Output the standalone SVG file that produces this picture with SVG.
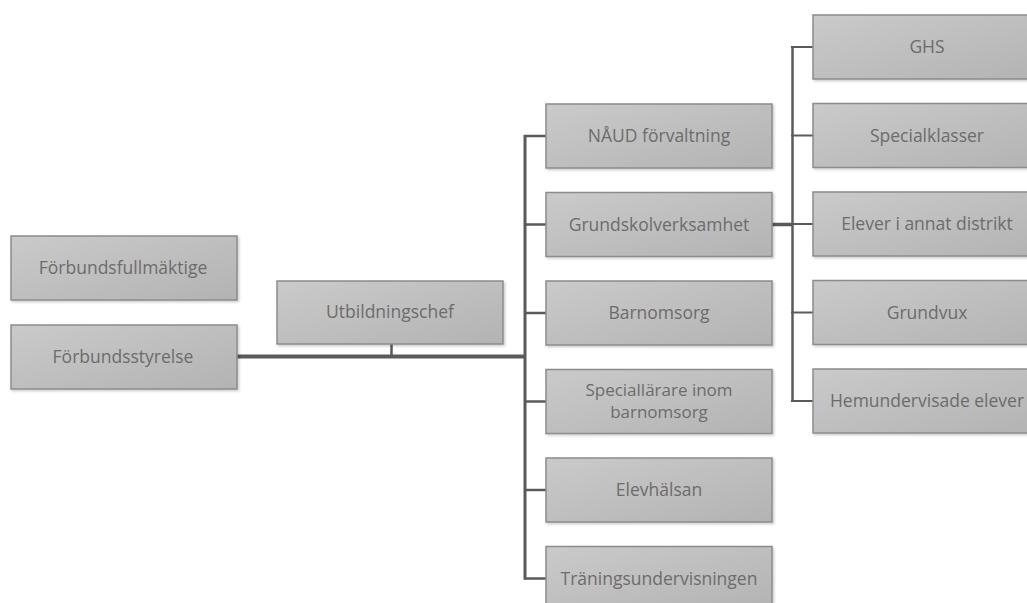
<svg xmlns="http://www.w3.org/2000/svg" width="1027" height="603" viewBox="0 0 1027 603">
<defs>
<linearGradient id="g" x1="0" y1="0" x2="1" y2="1">
<stop offset="0" stop-color="#cacaca"/>
<stop offset="1" stop-color="#b3b3b3"/>
</linearGradient>
<filter id="sh" x="-5%" y="-10%" width="115%" height="130%">
<feDropShadow dx="1.5" dy="1.5" stdDeviation="1" flood-color="#000" flood-opacity="0.2"/>
</filter>
</defs>
<style>
.box{fill:url(#g);stroke:#8c8c8c;stroke-width:1.5;filter:url(#sh)}
.t{font-family:"Open Sans","Noto Sans",sans-serif;font-size:17.5px;fill:#6c6c6c;text-anchor:middle}
.c{stroke:#5a5a5a;fill:none;stroke-linecap:butt}
</style>
<rect width="1027" height="603" fill="#fff"/>
<g id="connectors">
<line class="c" x1="236" y1="356.5" x2="526" y2="356.5" stroke-width="4"/>
<line class="c" x1="391.5" y1="344" x2="391.5" y2="356" stroke-width="2.5"/>
<line class="c" x1="525" y1="135" x2="525" y2="579.5" stroke-width="3"/>
<line class="c" x1="524" y1="136" x2="546" y2="136" stroke-width="2.5"/>
<line class="c" x1="524" y1="224.5" x2="546" y2="224.5" stroke-width="2.5"/>
<line class="c" x1="524" y1="313" x2="546" y2="313" stroke-width="2.5"/>
<line class="c" x1="524" y1="401.5" x2="546" y2="401.5" stroke-width="2.5"/>
<line class="c" x1="524" y1="490" x2="546" y2="490" stroke-width="2.5"/>
<line class="c" x1="524" y1="578.5" x2="546" y2="578.5" stroke-width="2.5"/>
<line class="c" x1="772" y1="224.5" x2="793" y2="224.5" stroke-width="3.5"/>
<line class="c" x1="792.5" y1="46" x2="792.5" y2="402" stroke-width="2.5"/>
<line class="c" x1="791" y1="47" x2="813" y2="47" stroke-width="2"/>
<line class="c" x1="791" y1="135.5" x2="813" y2="135.5" stroke-width="2"/>
<line class="c" x1="791" y1="224" x2="813" y2="224" stroke-width="2"/>
<line class="c" x1="791" y1="312.5" x2="813" y2="312.5" stroke-width="2"/>
<line class="c" x1="791" y1="401" x2="813" y2="401" stroke-width="2"/>
</g>
<g id="n-fullmaktige"><rect class="box" x="11" y="236" width="226" height="64"/><text class="t" x="123" y="274">Förbundsfullmäktige</text></g>
<g id="n-styrelse"><rect class="box" x="11" y="325" width="226" height="64"/><text class="t" x="123" y="363">Förbundsstyrelse</text></g>
<g id="n-utbildningschef"><rect class="box" x="277" y="281" width="226" height="63"/><text class="t" x="390" y="318">Utbildningschef</text></g>
<g id="n-naud"><rect class="box" x="546" y="104" width="226" height="64"/><text class="t" x="659" y="142">NÅUD förvaltning</text></g>
<g id="n-grundskol"><rect class="box" x="546" y="192.5" width="226" height="64"/><text class="t" x="659" y="230.5">Grundskolverksamhet</text></g>
<g id="n-barnomsorg"><rect class="box" x="546" y="281" width="226" height="64"/><text class="t" x="659" y="319">Barnomsorg</text></g>
<g id="n-speciallarare"><rect class="box" x="546" y="369.5" width="226" height="64"/><text class="t" x="659" y="396" style="font-size:17px">Speciallärare inom</text><text class="t" x="659" y="418" style="font-size:17px">barnomsorg</text></g>
<g id="n-elevhalsan"><rect class="box" x="546" y="458" width="226" height="64"/><text class="t" x="659" y="496">Elevhälsan</text></g>
<g id="n-traning"><rect class="box" x="546" y="546.5" width="226" height="64"/><text class="t" x="659" y="584.5">Träningsundervisningen</text></g>
<g id="n-ghs"><rect class="box" x="813" y="15" width="226" height="64"/><text class="t" x="927" y="53">GHS</text></g>
<g id="n-specialklasser"><rect class="box" x="813" y="103.5" width="226" height="64"/><text class="t" x="927" y="141.5">Specialklasser</text></g>
<g id="n-elever"><rect class="box" x="813" y="192" width="226" height="64"/><text class="t" x="927" y="230">Elever i annat distrikt</text></g>
<g id="n-grundvux"><rect class="box" x="813" y="280.5" width="226" height="64"/><text class="t" x="927" y="318.5">Grundvux</text></g>
<g id="n-hemundervisade"><rect class="box" x="813" y="369" width="226" height="64"/><text class="t" x="927" y="407">Hemundervisade elever</text></g>
</svg>
